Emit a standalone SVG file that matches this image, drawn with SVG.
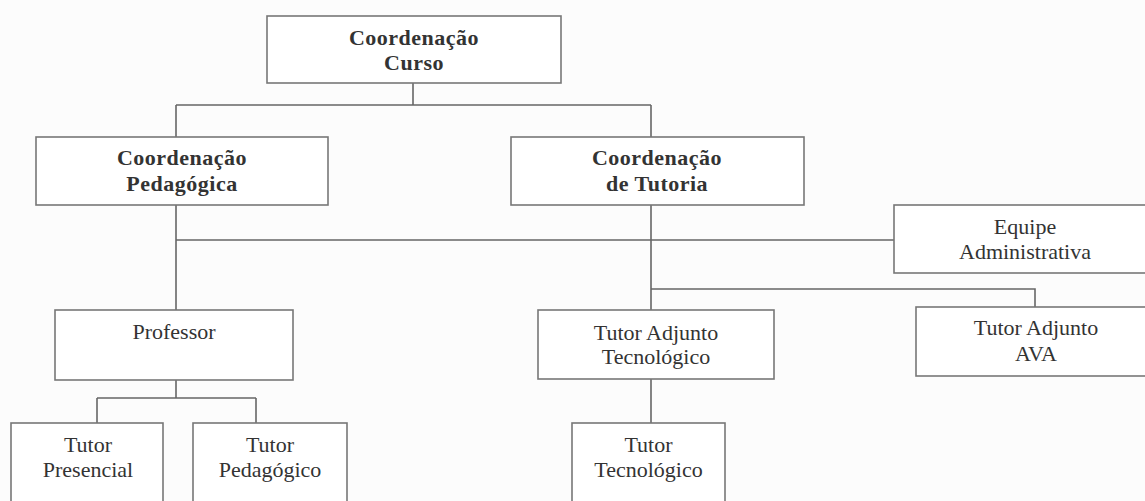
<svg xmlns="http://www.w3.org/2000/svg" width="1145" height="501" viewBox="0 0 1145 501">
<style>
.box{fill:#ffffff;stroke:#777777;stroke-width:1.6}
.ln{fill:none;stroke:#666666;stroke-width:1.6}
text{font-family:"Liberation Serif","Times New Roman",serif;font-size:22px;fill:#333333;text-anchor:middle}
.b{font-weight:bold;letter-spacing:0.5px}
</style>
<rect x="0" y="0" width="1145" height="501" fill="#fcfcfc"/>
<g id="connectors">
<path class="ln" d="M413 83V105M176 105H651M176 105V137M651 105V137"/>
<path class="ln" d="M176 205V310M651 205V310M176 240H894"/>
<path class="ln" d="M651 289H1035V307"/>
<path class="ln" d="M176 380V398M97 398H256M97 398V423M256 398V423"/>
<path class="ln" d="M651 379V423"/>
</g>
<g id="coord-curso"><rect class="box" x="267" y="16" width="294" height="67"/><text class="b" x="414" y="45">Coordenação</text><text class="b" x="414" y="70">Curso</text></g>
<g id="coord-pedagogica"><rect class="box" x="36" y="137" width="292" height="68"/><text class="b" x="182" y="165">Coordenação</text><text class="b" x="182" y="191">Pedagógica</text></g>
<g id="coord-tutoria"><rect class="box" x="511" y="137" width="293" height="68"/><text class="b" x="657" y="165">Coordenação</text><text class="b" x="657" y="191">de Tutoria</text></g>
<g id="equipe-adm"><rect class="box" x="894" y="205" width="262" height="68"/><text x="1025" y="234">Equipe</text><text x="1025" y="259">Administrativa</text></g>
<g id="professor"><rect class="box" x="55" y="310" width="238" height="70"/><text x="174" y="339">Professor</text></g>
<g id="tutor-adj-tec"><rect class="box" x="538" y="310" width="236" height="69"/><text x="656" y="340">Tutor Adjunto</text><text x="656" y="364">Tecnológico</text></g>
<g id="tutor-adj-ava"><rect class="box" x="916" y="307" width="240" height="69"/><text x="1036" y="335">Tutor Adjunto</text><text x="1036" y="361">AVA</text></g>
<g id="tutor-presencial"><rect class="box" x="11" y="423" width="152" height="90"/><text x="88" y="452">Tutor</text><text x="88" y="477">Presencial</text></g>
<g id="tutor-pedagogico"><rect class="box" x="193" y="423" width="154" height="90"/><text x="270" y="452">Tutor</text><text x="270" y="477">Pedagógico</text></g>
<g id="tutor-tecnologico"><rect class="box" x="572" y="423" width="153" height="90"/><text x="648.5" y="452">Tutor</text><text x="648.5" y="477">Tecnológico</text></g>
</svg>
